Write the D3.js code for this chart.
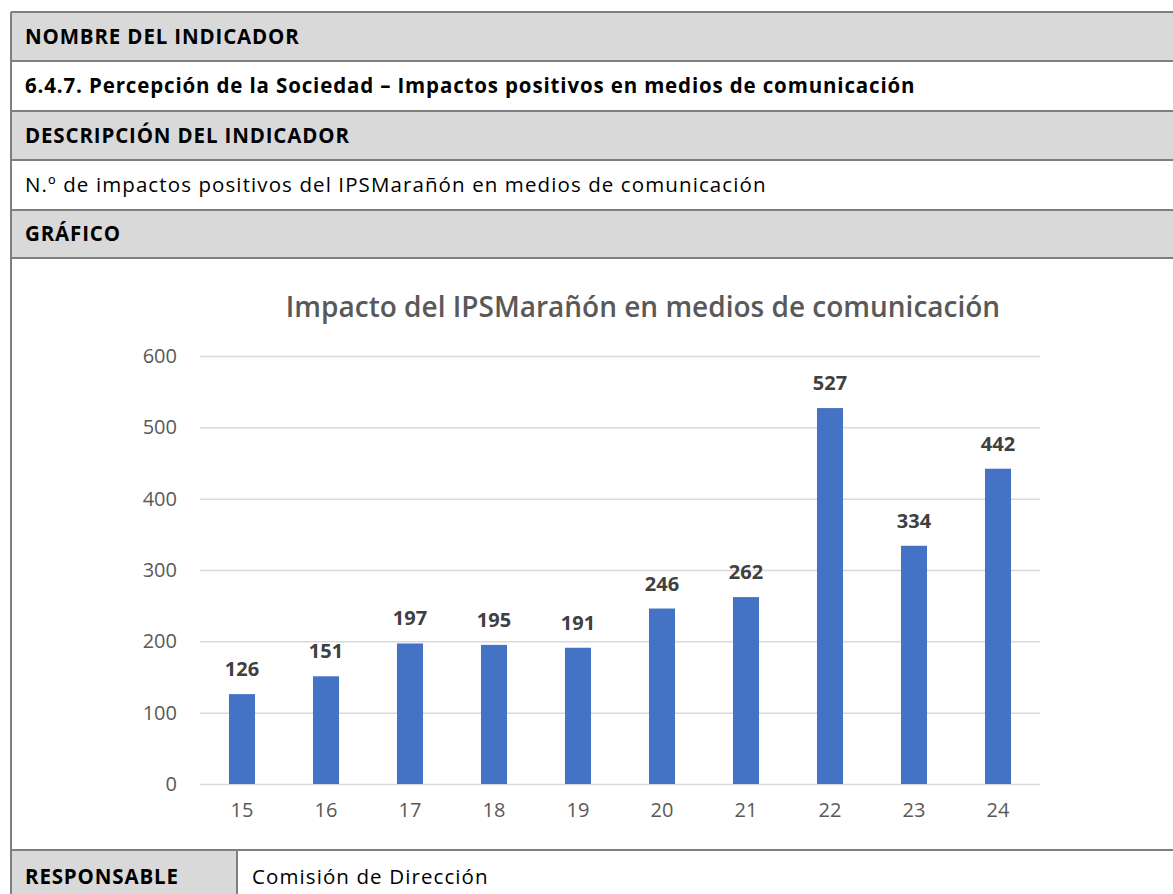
<!DOCTYPE html>
<html>
<head>
<meta charset="utf-8">
<script src="https://cdn.jsdelivr.net/npm/d3@7"></script>
<style>
  body { margin: 0; background: #fff; }
  svg text { font-family: "Open Sans", "Liberation Sans", sans-serif; }
</style>
</head>
<body>
<svg id="page"></svg>
<script>
// Chart data
const years = ["15", "16", "17", "18", "19", "20", "21", "22", "23", "24"];
const impacts = [126, 151, 197, 195, 191, 246, 262, 527, 334, 442];
const yTicks = [0, 100, 200, 300, 400, 500, 600];

// Table rows (text, bold, shaded)
const rowTexts = [
  "NOMBRE DEL INDICADOR",
  "6.4.7. Percepción de la Sociedad – Impactos positivos en medios de comunicación",
  "DESCRIPCIÓN DEL INDICADOR",
  "N.º de impactos positivos del IPSMarañón en medios de comunicación",
  "GRÁFICO"
];
const rowBold = [true, true, true, false, true];
const rowShaded = [true, false, true, false, true];

const W = 1173, H = 894;
const svg = d3.select("#page").attr("width", W).attr("height", H);

const borderColor = "#7f7f7f";
const shade = "#d9d9d9";
const tableLeft = 11, tableRight = 1180;
const rowTops = [12, 61, 111, 160, 210, 258];
const bottomTop = 850;
const tableFont = "20.5px";

// table cell text, spacing tuned so widths follow the original Calibri
function cellText(xPos, yPos, t, bold) {
  return svg.append("text")
    .attr("x", xPos).attr("y", yPos)
    .attr("dominant-baseline", "middle")
    .style("font-size", tableFont)
    .style("font-weight", bold ? "bold" : "normal")
    .style("letter-spacing", bold ? "0.85px" : "1.1px")
    .attr("fill", "#000")
    .text(t);
}

// Header rows
rowTexts.forEach((t, i) => {
  const y0 = rowTops[i], y1 = rowTops[i + 1];
  svg.append("rect")
    .attr("x", tableLeft).attr("y", y0)
    .attr("width", tableRight - tableLeft).attr("height", y1 - y0)
    .attr("fill", rowShaded[i] ? shade : "#fff");
  cellText(25, (y0 + y1) / 2 + 2, t, rowBold[i]);
});

// Bottom row
svg.append("rect").attr("x", tableLeft).attr("y", bottomTop)
  .attr("width", 237 - tableLeft).attr("height", H - bottomTop).attr("fill", shade);
cellText(25, 879, "RESPONSABLE", true);
cellText(252, 879, "Comisión de Dirección", false);

// Borders
rowTops.concat([bottomTop]).forEach(y => {
  svg.append("line").attr("x1", tableLeft).attr("x2", tableRight)
    .attr("y1", y).attr("y2", y)
    .attr("stroke", borderColor).attr("stroke-width", 2);
});
svg.append("line").attr("x1", tableLeft).attr("x2", tableLeft)
  .attr("y1", 12).attr("y2", H)
  .attr("stroke", borderColor).attr("stroke-width", 2);
svg.append("line").attr("x1", 237).attr("x2", 237)
  .attr("y1", bottomTop).attr("y2", H)
  .attr("stroke", borderColor).attr("stroke-width", 2);

// Chart
const chartFont = "'Open Sans', 'DejaVu Sans', sans-serif";
const plot = { left: 200, right: 1040, top: 356, bottom: 784 };

const x = d3.scaleBand().domain(years)
  .range([plot.left, plot.right]).paddingInner(0.69).paddingOuter(0.345);
const y = d3.scaleLinear().domain([0, 600]).range([plot.bottom, plot.top]);

svg.append("text")
  .attr("x", 643).attr("y", 317)
  .attr("text-anchor", "middle")
  .style("font-family", chartFont)
  .style("font-size", "28px")
  .style("font-weight", "600")
  .attr("fill", "#595959")
  .text("Impacto del IPSMarañón en medios de comunicación");

// Gridlines + y labels
const yAxis = svg.append("g")
  .attr("transform", `translate(${plot.left},0)`)
  .call(d3.axisLeft(y).tickValues(yTicks).tickSize(-(plot.right - plot.left)).tickPadding(23));
yAxis.select(".domain").remove();
yAxis.selectAll(".tick line").attr("stroke", "#d9d9d9").attr("stroke-width", 1.5);
yAxis.selectAll(".tick text")
  .style("font-family", chartFont).style("font-size", "20px").attr("fill", "#595959");

// X labels
const xAxis = svg.append("g")
  .attr("transform", `translate(0,${plot.bottom})`)
  .call(d3.axisBottom(x).tickSize(0).tickPadding(19));
xAxis.select(".domain").remove();
xAxis.selectAll(".tick text")
  .style("font-family", chartFont).style("font-size", "20px").attr("fill", "#595959");

// Bars
svg.append("g").selectAll("rect")
  .data(impacts)
  .join("rect")
  .attr("x", (d, i) => x(years[i]))
  .attr("y", d => y(d))
  .attr("width", x.bandwidth())
  .attr("height", d => plot.bottom - y(d))
  .attr("fill", "#4472c4");

// Data labels
svg.append("g").selectAll("text")
  .data(impacts)
  .join("text")
  .attr("x", (d, i) => x(years[i]) + x.bandwidth() / 2)
  .attr("y", d => y(d) - 18)
  .attr("text-anchor", "middle")
  .style("font-family", chartFont)
  .style("font-size", "20px")
  .style("font-weight", "bold")
  .attr("fill", "#404040")
  .text(d => d);
</script>
</body>
</html>
